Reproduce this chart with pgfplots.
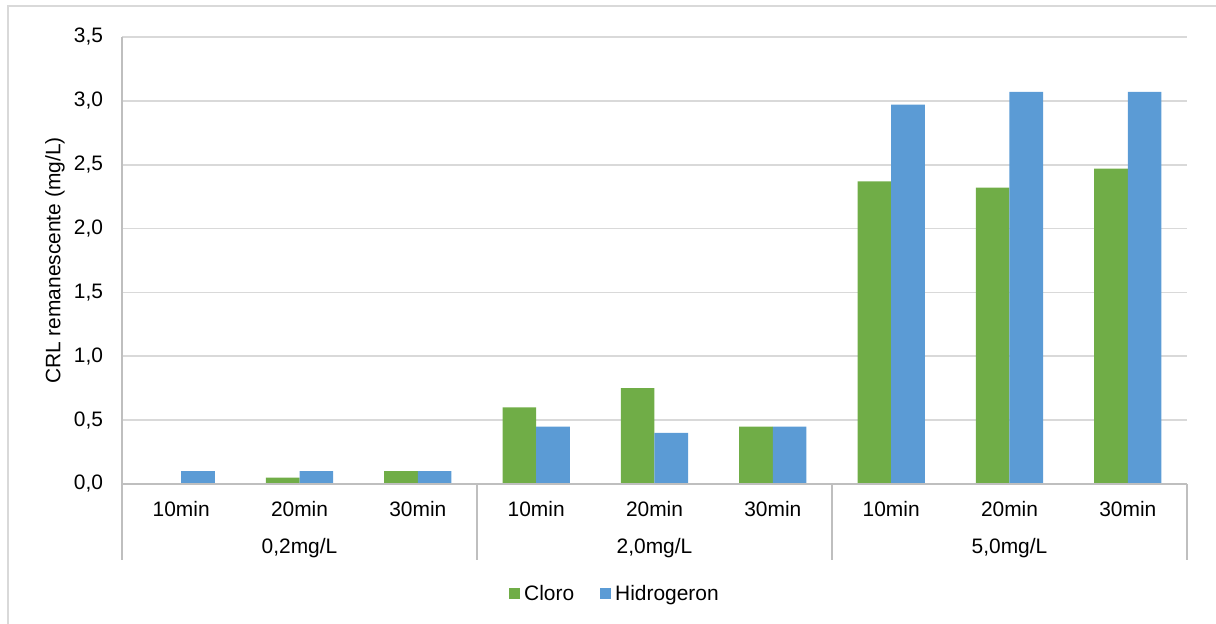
\documentclass[border=0pt]{standalone}
\usepackage{pgfplots}
\pgfplotsset{compat=1.18}
\usepackage{fontspec}
\setmainfont{Liberation Sans}
\definecolor{cloro}{HTML}{70AD47}
\definecolor{hidro}{HTML}{5B9BD5}
\definecolor{gridc}{HTML}{D9D9D9}
\definecolor{axc}{HTML}{BFBFBF}

\begin{document}
\begin{tikzpicture}
\path[use as bounding box] (0,0) rectangle (608bp,312bp);
\draw[gridc, line width=1bp] (4bp,0) -- (4bp,308.75bp) -- (608bp,308.75bp);
\begin{axis}[
    at={(61bp,70bp)}, anchor=south west,
    scale only axis, width=532.5bp, height=223.5bp,
    ybar=0pt, bar width=16.8bp,
    xmin=-0.5, xmax=8.5, ymin=0, ymax=3.5,
    xtick={0,...,8},
    xticklabels={10min,20min,30min,10min,20min,30min,10min,20min,30min},
    ytick={0,0.5,1,1.5,2,2.5,3,3.5},
    major tick length=0pt,
    axis line style={draw=none},
    ymajorgrids, grid style={gridc, line width=0.9bp},
    clip=false,
    /pgf/number format/assume math mode=true,
    yticklabel style={/pgf/number format/fixed, /pgf/number format/fixed zerofill,
        /pgf/number format/precision=1, /pgf/number format/use comma,
        anchor=east, xshift=-6bp},
    xticklabel style={anchor=base, yshift=-16bp},
    tick label style={font=\fontsize{10.5}{12.6}\selectfont, text=black},
    ylabel={CRL remanescente (mg/L)},
    ylabel style={at={(axis description cs:-0.0629,0.5)}, anchor=center,
        font=\fontsize{10.5}{12.6}\selectfont},
    legend columns=2,
    legend style={at={(axis description cs:0.4638,-0.246)}, anchor=center,
        draw=none, fill=none, font=\fontsize{10.5}{12.6}\selectfont,
        /tikz/every even column/.append style={column sep=11bp}},
]
\addplot[fill=cloro, draw=none,
    legend image code/.code={\fill[cloro] (0bp,-2.75bp) rectangle (5.5bp,2.75bp);}]
    coordinates {(0,0) (1,0.05) (2,0.1) (3,0.6) (4,0.75) (5,0.45) (6,2.37) (7,2.32) (8,2.47)};
\addlegendentry{Cloro}
\addplot[fill=hidro, draw=none,
    legend image code/.code={\fill[hidro] (0bp,-2.75bp) rectangle (5.5bp,2.75bp);}]
    coordinates {(0,0.1) (1,0.1) (2,0.1) (3,0.45) (4,0.4) (5,0.45) (6,2.97) (7,3.07) (8,3.07)};
\addlegendentry{Hidrogeron}

\draw[axc, line width=1bp] (axis cs:-0.5,3.5) -- (axis cs:-0.5,0) -- (axis cs:8.5,0);
\draw[axc, line width=1bp] (axis cs:-0.5,0) -- ([yshift=-38bp]axis cs:-0.5,0);
\draw[axc, line width=1bp] (axis cs:2.5,0) -- ([yshift=-38bp]axis cs:2.5,0);
\draw[axc, line width=1bp] (axis cs:5.5,0) -- ([yshift=-38bp]axis cs:5.5,0);
\draw[axc, line width=1bp] (axis cs:8.5,0) -- ([yshift=-38bp]axis cs:8.5,0);
\node[anchor=base, yshift=-34.5bp, font=\fontsize{10.5}{12.6}\selectfont] at (axis cs:1,0) {0,2mg/L};
\node[anchor=base, yshift=-34.5bp, font=\fontsize{10.5}{12.6}\selectfont] at (axis cs:4,0) {2,0mg/L};
\node[anchor=base, yshift=-34.5bp, font=\fontsize{10.5}{12.6}\selectfont] at (axis cs:7,0) {5,0mg/L};
\end{axis}
\end{tikzpicture}
\end{document}
